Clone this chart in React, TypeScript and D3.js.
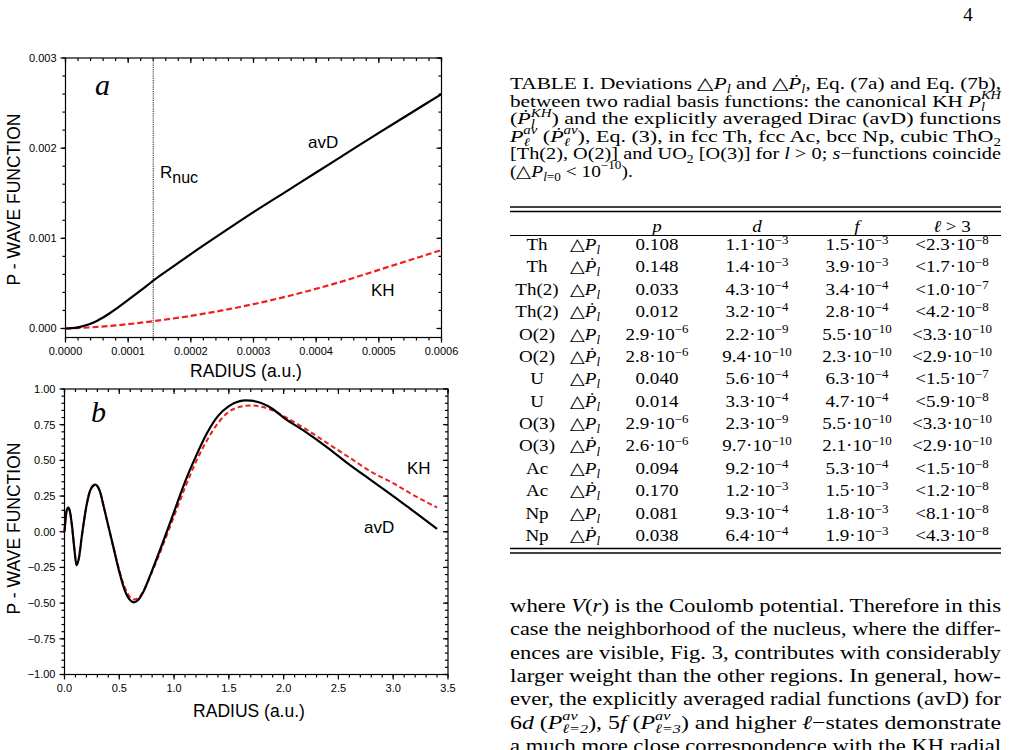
import React from 'react';
import * as d3 from 'd3';

const W = 1009;
const H = 750;

// ---------- Panel a: P-wave functions close to the nucleus ----------
const radiusA = [0, 0.00001, 0.00002, 0.00003, 0.00004, 0.00005, 0.00006, 0.00007, 0.00008, 0.00009, 0.0001, 0.00011, 0.00012, 0.00013, 0.00014, 0.00016, 0.00018, 0.0002, 0.00025, 0.0003, 0.00035, 0.0004, 0.00045, 0.0005, 0.00055, 0.0006];
const avdA = [0, 0.000003, 0.000013, 0.00003, 0.000053, 0.000084, 0.000122, 0.000166, 0.000214, 0.000265, 0.000317, 0.00037, 0.000423, 0.000476, 0.00053, 0.00063, 0.000728, 0.000825, 0.00106, 0.00129, 0.00151, 0.00173, 0.00195, 0.00217, 0.002385, 0.0026];
const radiusKhA = [0, 0.00005, 0.0001, 0.00015, 0.0002, 0.00025, 0.0003, 0.00035, 0.0004, 0.00045, 0.0005, 0.00055, 0.0006];
const khA = [0, 0.000017, 0.000048, 0.00009, 0.00014, 0.0002, 0.00027, 0.00035, 0.00044, 0.00054, 0.00065, 0.00076, 0.00087];
const rNuc = 0.00014;
const ticksAX = [0, 0.0001, 0.0002, 0.0003, 0.0004, 0.0005, 0.0006];
const ticksAY = [0, 0.001, 0.002, 0.003];

// ---------- Panel b: the whole radial range ----------
const radiusB = [0, 0.01, 0.02, 0.035, 0.05, 0.07, 0.09, 0.11, 0.13, 0.16, 0.2, 0.24, 0.28, 0.32, 0.36, 0.4, 0.45, 0.5, 0.55, 0.6, 0.63, 0.67, 0.72, 0.8, 0.9, 1.0, 1.1, 1.2, 1.3, 1.4, 1.5, 1.6, 1.65, 1.7, 1.8, 1.9, 2.0, 2.2, 2.4, 2.6, 2.8, 3.0, 3.2, 3.4];
const avdB = [0, 0.09, 0.15, 0.17, 0.14, 0.03, -0.12, -0.235, -0.19, -0.02, 0.18, 0.3, 0.33, 0.29, 0.17, 0.04, -0.12, -0.28, -0.41, -0.48, -0.495, -0.48, -0.42, -0.27, -0.07, 0.14, 0.35, 0.53, 0.69, 0.81, 0.88, 0.915, 0.92, 0.918, 0.9, 0.86, 0.8, 0.7, 0.59, 0.47, 0.36, 0.25, 0.135, 0.02];
const khB = [0, 0.09, 0.15, 0.17, 0.14, 0.03, -0.12, -0.23, -0.19, -0.02, 0.18, 0.3, 0.325, 0.29, 0.17, 0.04, -0.12, -0.27, -0.39, -0.46, -0.475, -0.465, -0.415, -0.28, -0.09, 0.11, 0.31, 0.49, 0.64, 0.76, 0.84, 0.875, 0.882, 0.885, 0.875, 0.85, 0.81, 0.72, 0.62, 0.52, 0.42, 0.34, 0.25, 0.17];
const ticksBX = [0, 0.5, 1.0, 1.5, 2.0, 2.5, 3.0, 3.5];
const ticksBY = [-1, -0.75, -0.5, -0.25, 0, 0.25, 0.5, 0.75, 1];

// ---------- Table I ----------
const tableHeads = ['p', 'd', 'f', 'ℓ > 3'];
const rowSites = ['Th', 'Th', 'Th(2)', 'Th(2)', 'O(2)', 'O(2)', 'U', 'U', 'O(3)', 'O(3)', 'Ac', 'Ac', 'Np', 'Np'];
const rowDotted = [false, true, false, true, false, true, false, true, false, true, false, true, false, true];
const devP = ['0.108', '0.148', '0.033', '0.012', '2.9e-6', '2.8e-6', '0.040', '0.014', '2.9e-6', '2.6e-6', '0.094', '0.170', '0.081', '0.038'];
const devD = ['1.1e-3', '1.4e-3', '4.3e-4', '3.2e-4', '2.2e-9', '9.4e-10', '5.6e-4', '3.3e-4', '2.3e-9', '9.7e-10', '9.2e-4', '1.2e-3', '9.3e-4', '6.4e-4'];
const devF = ['1.5e-3', '3.9e-3', '3.4e-4', '2.8e-4', '5.5e-10', '2.3e-10', '6.3e-4', '4.7e-4', '5.5e-10', '2.1e-10', '5.3e-4', '1.5e-3', '1.8e-3', '1.9e-3'];
const devHigh = ['<2.3e-8', '<1.7e-8', '<1.0e-7', '<4.2e-8', '<3.3e-10', '<2.9e-10', '<1.5e-7', '<5.9e-8', '<3.3e-10', '<2.9e-10', '<1.5e-8', '<1.2e-8', '<8.1e-8', '<4.3e-8'];

const SANS = 'Liberation Sans, Arial, Helvetica, sans-serif';
const SERIF = 'Liberation Serif, Times New Roman, serif';
const RED = '#f01e1e';

type ScriptPart = { t: string; up?: boolean; it?: boolean };

// A symbol with sub/superscripts; later scripts are pulled back by `back` px to stack.
function Sym({ b, it = true, fs, s, back = 0, k, raise = 0.42 }: { b: string; it?: boolean; fs: number; s: ScriptPart[]; back?: number; k?: string; raise?: number }) {
  const ss = fs * 0.68;
  const off = (p: ScriptPart) => (p.up ? -fs * raise : fs * 0.24);
  const out: any[] = [<tspan key="b" fontStyle={it ? 'italic' : 'normal'}>{b}</tspan>];
  let cur = 0;
  s.forEach((p, i) => {
    const target = off(p);
    out.push(
      <tspan key={'s' + i} dx={i > 0 ? -back : undefined} dy={target - cur} fontSize={ss} fontStyle={p.it === false ? 'normal' : 'italic'}>
        {p.t}
      </tspan>
    );
    cur = target;
  });
  out.push(<tspan key="r" dy={-cur}>{'\u200B'}</tspan>);
  return <React.Fragment key={k}>{out}</React.Fragment>;
}

function Num({ v, fs }: { v: string; fs: number }) {
  if (!v.includes('e')) return <>{v}</>;
  const lt = v.startsWith('<');
  const [m, e] = v.replace('<', '').split('e');
  return (
    <>
      {lt ? '<' : ''}
      {m}·
      <Sym b="10" it={false} fs={fs} raise={0.36} s={[{ t: '−' + e.replace('-', ''), up: true, it: false }]} />
    </>
  );
}

// Table cell: centred text, widened slightly to the proportions of the body face
function Cell({ x, y, children, italic = false }: any) {
  return (
    <text transform={`translate(${x},${y}) scale(1.12,1)`} fontStyle={italic ? 'italic' : 'normal'}>
      {children}
    </text>
  );
}

function Frame({ x, y, xTicks, xMinor, yTicks, yMinor, fmtX, fmtY }: any) {
  const [x0, x1] = x.range();
  const [y0, y1] = y.range();
  const left = x0, right = x1, bottom = y0, top = y1;
  return (
    <g stroke="#000" strokeWidth={1.2}>
      <rect x={left} y={top} width={right - left} height={bottom - top} fill="none" />
      {xMinor.map((t: number, i: number) => (
        <g key={'xm' + i}>
          <line x1={x(t)} x2={x(t)} y1={bottom} y2={bottom + 3} />
          <line x1={x(t)} x2={x(t)} y1={top} y2={top + 3} />
        </g>
      ))}
      {xTicks.map((t: number, i: number) => (
        <g key={'xM' + i}>
          <line x1={x(t)} x2={x(t)} y1={bottom} y2={bottom + 5} />
          <line x1={x(t)} x2={x(t)} y1={top} y2={top + 5} />
          <text x={x(t)} y={bottom + 17.5} stroke="none" fill="#000" fontFamily={SANS} fontSize={11} textAnchor="middle">
            {fmtX(t)}
          </text>
        </g>
      ))}
      {yMinor.map((t: number, i: number) => (
        <g key={'ym' + i}>
          <line x1={left - 3} x2={left} y1={y(t)} y2={y(t)} />
          <line x1={right - 3} x2={right} y1={y(t)} y2={y(t)} />
        </g>
      ))}
      {yTicks.map((t: number, i: number) => (
        <g key={'yM' + i}>
          <line x1={left - 5} x2={left} y1={y(t)} y2={y(t)} />
          <line x1={right - 5} x2={right} y1={y(t)} y2={y(t)} />
          <text x={left - 9} y={y(t)} dy="0.36em" stroke="none" fill="#000" fontFamily={SANS} fontSize={11} textAnchor="end">
            {fmtY(t)}
          </text>
        </g>
      ))}
    </g>
  );
}

export default function App() {
  // panel a scales
  const xa = d3.scaleLinear().domain([0, 0.0006]).range([65.5, 441.5]);
  const ya = d3.scaleLinear().domain([-0.0001, 0.003]).range([337.5, 58]);
  // panel b scales
  const xb = d3.scaleLinear().domain([0, 3.5]).range([64.5, 448]);
  const yb = d3.scaleLinear().domain([-1, 1]).range([674.5, 389]);

  const lineA = d3.line<number>().curve(d3.curveMonotoneX);
  const avdPathA = lineA(radiusA.map((r, i) => [xa(r), ya(avdA[i])]) as any);
  const khPathA = lineA(radiusKhA.map((r, i) => [xa(r), ya(khA[i])]) as any);
  const lineB = d3.line<number>().curve(d3.curveMonotoneX);
  const avdPathB = lineB(radiusB.map((r, i) => [xb(r), yb(avdB[i])]) as any);
  const khPathB = lineB(radiusB.map((r, i) => [xb(r), yb(khB[i])]) as any);

  const minorAX = d3.range(0, 0.0006 + 1e-9, 0.00002);
  const minorAY = d3.range(0, 0.003 + 1e-9, 0.0002);
  const minorBX = d3.range(0, 3.5 + 1e-9, 0.1);
  const minorBY = d3.range(-1, 1 + 1e-9, 0.05);

  const fCap = 17;
  const capX = 510;
  const capW = 491;
  const capY = [89, 106.5, 124, 141.5, 159, 176.5];

  const fTab = 17;
  const colX = [537, 585, 657, 757, 857, 952];
  const headY = 232;
  const rowY = d3.scaleLinear().domain([0, 13]).range([250, 541]);

  const fPar = 19.5;
  const parY = [612, 635.3, 658.6, 682, 705.3, 728.6, 752];

  const dotP = (fs: number, k: string) => <Sym k={k} b={'Ṗ'} fs={fs} s={[{ t: 'l' }]} />;
  const plainP = (fs: number, k: string) => <Sym k={k} b="P" fs={fs} s={[{ t: 'l' }]} />;
  const adj = 'spacingAndGlyphs';

  return (
    <div style={{ position: 'absolute', left: 0, top: 0, width: W, height: H, background: '#fff' }}>
      <svg width={W} height={H} viewBox={`0 0 ${W} ${H}`} style={{ display: 'block' }}>
        <rect width={W} height={H} fill="#fff" />

        {/* ---------------- Panel a ---------------- */}
        <Frame x={xa} y={ya} xTicks={ticksAX} xMinor={minorAX} yTicks={ticksAY} yMinor={minorAY}
          fmtX={(t: number) => d3.format('.4f')(t)} fmtY={(t: number) => d3.format('.3f')(t)} />
        <line x1={xa(rNuc)} x2={xa(rNuc)} y1={ya(0.003)} y2={ya(-0.0001)} stroke="#333" strokeWidth={1.1} strokeDasharray="1.2,1" />
        <path d={khPathA || ''} fill="none" stroke={RED} strokeWidth={2.2} strokeDasharray="6,3" />
        <path d={avdPathA || ''} fill="none" stroke="#000" strokeWidth={2.2} />
        <text x={95} y={95} fontFamily={SERIF} fontStyle="italic" fontSize={30}>a</text>
        <text x={160} y={178} fontFamily={SANS} fontSize={17}>R<tspan dy={5} fontSize={16}>nuc</tspan></text>
        <text x={308} y={148} fontFamily={SANS} fontSize={17}>avD</text>
        <text x={371} y={296} fontFamily={SANS} fontSize={17}>KH</text>
        <text transform="translate(19.5,199.5) rotate(-90)" textAnchor="middle" fontFamily={SANS} fontSize={17.5}>P - WAVE FUNCTION</text>
        <text x={246} y={377} textAnchor="middle" fontFamily={SANS} fontSize={17.5}>RADIUS (a.u.)</text>

        {/* ---------------- Panel b ---------------- */}
        <Frame x={xb} y={yb} xTicks={ticksBX} xMinor={minorBX} yTicks={ticksBY} yMinor={minorBY}
          fmtX={(t: number) => d3.format('.1f')(t)} fmtY={(t: number) => d3.format('.2f')(t)} />
        <path d={khPathB || ''} fill="none" stroke={RED} strokeWidth={2} strokeDasharray="5,3" />
        <path d={avdPathB || ''} fill="none" stroke="#000" strokeWidth={2.2} />
        <text x={91} y={422} fontFamily={SERIF} fontStyle="italic" fontSize={30}>b</text>
        <text x={407} y={474} fontFamily={SANS} fontSize={17}>KH</text>
        <text x={364} y={533} fontFamily={SANS} fontSize={17}>avD</text>
        <text transform="translate(19.5,528.5) rotate(-90)" textAnchor="middle" fontFamily={SANS} fontSize={17.5}>P - WAVE FUNCTION</text>
        <text x={249} y={717} textAnchor="middle" fontFamily={SANS} fontSize={17.5}>RADIUS (a.u.)</text>

        {/* ---------------- Page number ---------------- */}
        <text x={968} y={21} textAnchor="middle" fontFamily={SERIF} fontSize={19}>4</text>

        {/* ---------------- Table caption ---------------- */}
        <g fontFamily={SERIF} fontSize={fCap} fill="#000">
          <text x={capX} y={capY[0]} textLength={capW} lengthAdjust={adj}>
            TABLE I. Deviations △{plainP(fCap, 'a')} and △{dotP(fCap, 'b')}, Eq. (7a) and Eq. (7b),
          </text>
          <text x={capX} y={capY[1]} textLength={capW} lengthAdjust={adj}>
            between two radial basis functions: the canonical KH <Sym b="P" fs={fCap} s={[{ t: 'l' }, { t: 'KH', up: true }]} back={3.3} />
          </text>
          <text x={capX} y={capY[2]} textLength={capW} lengthAdjust={adj}>
            (<Sym b={'Ṗ'} fs={fCap} s={[{ t: 'l' }, { t: 'KH', up: true }]} back={3.3} />) and the explicitly averaged Dirac (avD) functions
          </text>
          <text x={capX} y={capY[3]} textLength={capW} lengthAdjust={adj}>
            <Sym b="P" fs={fCap} s={[{ t: 'ℓ' }, { t: 'av', up: true }]} back={5} /> (<Sym b={'Ṗ'} fs={fCap} s={[{ t: 'ℓ' }, { t: 'av', up: true }]} back={5} />), Eq. (3), in fcc Th, fcc Ac, bcc Np, cubic ThO<Sym b="" fs={fCap} s={[{ t: '2', it: false }]} />
          </text>
          <text x={capX} y={capY[4]} textLength={capW} lengthAdjust={adj}>
            [Th(2), O(2)] and UO<Sym b="" fs={fCap} s={[{ t: '2', it: false }]} /> [O(3)] for <tspan fontStyle="italic">l</tspan> {'>'} 0; <tspan fontStyle="italic">s</tspan>−functions coincide
          </text>
          <text transform={`translate(${capX},${capY[5]}) scale(1.14,1)`}>
            (△<Sym b="P" fs={fCap} s={[{ t: 'l' }, { t: '=0', it: false }]} back={0} /> {'<'} <Sym b="10" it={false} fs={fCap} s={[{ t: '−10', up: true, it: false }]} />).
          </text>
        </g>

        {/* ---------------- Table rules ---------------- */}
        <g stroke="#000">
          <line x1={510} x2={1001} y1={207} y2={207} strokeWidth={1.6} />
          <line x1={510} x2={1001} y1={211.5} y2={211.5} strokeWidth={1.6} />
          <line x1={510} x2={1001} y1={235.5} y2={235.5} strokeWidth={1.1} />
          <line x1={510} x2={1001} y1={548.5} y2={548.5} strokeWidth={1.6} />
          <line x1={510} x2={1001} y1={553} y2={553} strokeWidth={1.6} />
        </g>

        {/* ---------------- Table body ---------------- */}
        <g fontFamily={SERIF} fontSize={fTab} fill="#000" textAnchor="middle">
          {tableHeads.map((h, i) => (
            <Cell key={'h' + i} x={colX[i + 2]} y={headY} italic={i < 3}>
              {i < 3 ? h : (<><tspan fontStyle="italic">ℓ</tspan> {'>'} 3</>)}
            </Cell>
          ))}
          {rowSites.map((site, i) => (
            <g key={'r' + i}>
              <Cell x={colX[0]} y={rowY(i)}>{site}</Cell>
              <Cell x={colX[1]} y={rowY(i)}>△{rowDotted[i] ? dotP(fTab, 'q') : plainP(fTab, 'q')}</Cell>
              <Cell x={colX[2]} y={rowY(i)}><Num v={devP[i]} fs={fTab} /></Cell>
              <Cell x={colX[3]} y={rowY(i)}><Num v={devD[i]} fs={fTab} /></Cell>
              <Cell x={colX[4]} y={rowY(i)}><Num v={devF[i]} fs={fTab} /></Cell>
              <Cell x={colX[5]} y={rowY(i)}><Num v={devHigh[i]} fs={fTab} /></Cell>
            </g>
          ))}
        </g>

        {/* ---------------- Body text ---------------- */}
        <g fontFamily={SERIF} fontSize={fPar} fill="#000">
          <text x={capX} y={parY[0]} textLength={capW} lengthAdjust={adj}>
            where <tspan fontStyle="italic">V</tspan>(<tspan fontStyle="italic">r</tspan>) is the Coulomb potential. Therefore in this
          </text>
          <text x={capX} y={parY[1]} textLength={capW} lengthAdjust={adj}>
            case the neighborhood of the nucleus, where the differ-
          </text>
          <text x={capX} y={parY[2]} textLength={capW} lengthAdjust={adj}>
            ences are visible, Fig. 3, contributes with considerably
          </text>
          <text x={capX} y={parY[3]} textLength={capW} lengthAdjust={adj}>
            larger weight than the other regions. In general, how-
          </text>
          <text x={capX} y={parY[4]} textLength={capW} lengthAdjust={adj}>
            ever, the explicitly averaged radial functions (avD) for
          </text>
          <text x={capX} y={parY[5]} textLength={capW} lengthAdjust={adj}>
            6<tspan fontStyle="italic">d</tspan> (<Sym b="P" fs={fPar} s={[{ t: 'av', up: true }, { t: 'ℓ=2' }]} back={12.5} />), 5<tspan fontStyle="italic">f</tspan> (<Sym b="P" fs={fPar} s={[{ t: 'av', up: true }, { t: 'ℓ=3' }]} back={12.5} />) and higher <tspan fontStyle="italic">ℓ</tspan>−states demonstrate
          </text>
          <text x={capX} y={parY[6]} textLength={capW} lengthAdjust={adj}>
            a much more close correspondence with the KH radial
          </text>
        </g>
      </svg>
    </div>
  );
}
